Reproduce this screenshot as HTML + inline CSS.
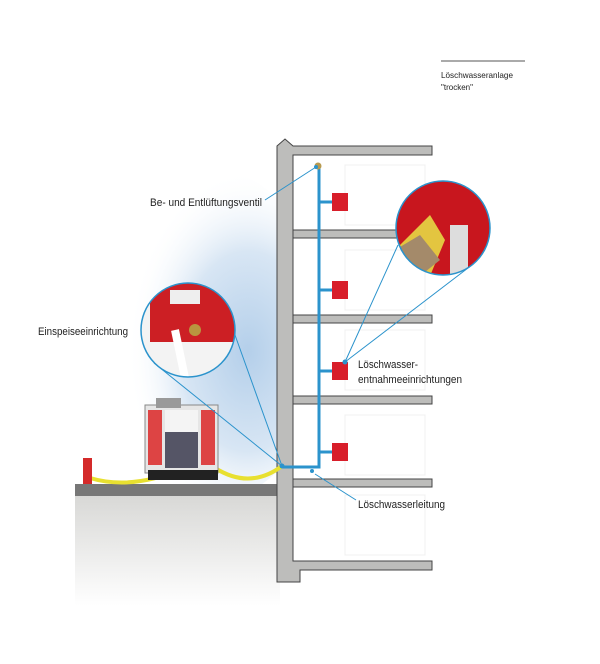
<!DOCTYPE html>
<html><head><meta charset="utf-8"><style>
html,body{margin:0;padding:0;background:#fff;}
svg{display:block;}
text{font-family:"Liberation Sans Narrow","Liberation Sans",sans-serif;fill:#222;}
</style></head><body>
<svg width="600" height="664" viewBox="0 0 600 664" xmlns="http://www.w3.org/2000/svg">
<defs>
<radialGradient id="sky" cx="0.65" cy="0.55" r="0.55">
<stop offset="0" stop-color="#b4cfea"/><stop offset="0.55" stop-color="#d8e6f4"/><stop offset="1" stop-color="#fff" stop-opacity="0"/>
</radialGradient>
<linearGradient id="gnd" x1="0" y1="0" x2="0" y2="1">
<stop offset="0" stop-color="#d8d8d6"/><stop offset="1" stop-color="#fff"/>
</linearGradient>
<clipPath id="c1"><circle cx="188" cy="330" r="47"/></clipPath>
<clipPath id="c2"><circle cx="443" cy="228" r="47"/></clipPath>
</defs>
<ellipse cx="215" cy="335" rx="110" ry="165" fill="url(#sky)"/>
<rect x="75" y="496" width="205" height="110" fill="url(#gnd)"/>
<rect x="75" y="484" width="205" height="12" fill="#777"/>
<rect x="293" y="150" width="145" height="415" fill="#fff"/>
<!-- faint interior lines -->
<g stroke="#f0f0f0" fill="none"><rect x="345" y="165" width="80" height="60"/><rect x="345" y="250" width="80" height="60"/><rect x="345" y="330" width="80" height="60"/><rect x="345" y="415" width="80" height="60"/><rect x="345" y="495" width="80" height="60"/></g>
<!-- building -->
<g fill="#bdbdbb" stroke="#444" stroke-width="1">
<path d="M277,146 L285,139 L293,146 L432,146 L432,155 L293,155 L293,561 L432,561 L432,570 L300,570 L300,582 L277,582 Z"/>
<rect x="293" y="230" width="139" height="8"/>
<rect x="293" y="315" width="139" height="8"/>
<rect x="293" y="396" width="139" height="8"/>
<rect x="293" y="479" width="139" height="8"/>
</g>
<!-- pipe -->
<g stroke="#2b93cc" stroke-width="3" fill="none">
<path d="M319,168 V467 H282"/>
<path d="M319,202 H332 M319,290 H332 M319,371 H332 M319,452 H332"/>
</g>
<circle cx="318" cy="166" r="3.5" fill="#b89a50"/>
<g fill="#d81e2a"><rect x="332" y="193" width="16" height="18"/><rect x="332" y="281" width="16" height="18"/><rect x="332" y="362" width="16" height="18"/><rect x="332" y="443" width="16" height="18"/></g>
<!-- hose and hydrant -->
<path d="M90,478 Q130,490 180,470 M215,468 Q250,490 282,466" stroke="#e8e030" stroke-width="4" fill="none"/>
<rect x="83" y="458" width="9" height="26" fill="#d42a2a"/>
<!-- truck -->
<rect x="145" y="405" width="73" height="68" fill="#e6e6e6" stroke="#888"/>
<rect x="148" y="410" width="14" height="55" fill="#d44"/><rect x="201" y="410" width="14" height="55" fill="#d44"/>
<rect x="165" y="410" width="33" height="22" fill="#f4f4f4"/><rect x="165" y="432" width="33" height="36" fill="#556"/>
<rect x="156" y="398" width="25" height="10" fill="#999"/>
<rect x="148" y="470" width="70" height="10" fill="#222"/>
<!-- circles -->
<g clip-path="url(#c1)"><rect x="140" y="282" width="96" height="96" fill="#f3f3f3"/><rect x="150" y="282" width="90" height="60" fill="#cc1f24"/><rect x="170" y="290" width="30" height="14" fill="#eee"/><circle cx="195" cy="330" r="6" fill="#b9953f"/><path d="M175,330 L185,378" stroke="#fff" stroke-width="8"/></g>
<circle cx="188" cy="330" r="47" fill="none" stroke="#2b93cc" stroke-width="1.5"/>
<g clip-path="url(#c2)"><rect x="395" y="180" width="96" height="96" fill="#c8161e"/><path d="M400,245 L430,215 L445,240 L430,276 L395,276Z" fill="#e3c540"/><path d="M395,250 L420,235 L440,260 L420,276 L395,276Z" fill="#a48a6a"/><rect x="450" y="225" width="18" height="50" fill="#ddd"/></g>
<circle cx="443" cy="228" r="47" fill="none" stroke="#2b93cc" stroke-width="1.5"/>
<!-- leader lines -->
<g stroke="#2b93cc" stroke-width="1" fill="none">
<path d="M265,200 L316,167"/>
<path d="M154,363 L282,466 M235,335 L282,466"/>
<path d="M345,362 L398,245 M345,362 L468,268"/>
<path d="M315,474 L356,500"/>
</g>
<g fill="#2b93cc"><circle cx="316" cy="167" r="2"/><circle cx="282" cy="466" r="2.5"/><circle cx="345" cy="362" r="2.5"/><circle cx="312" cy="471" r="2"/></g>
<!-- labels -->
<text x="150" y="206" font-size="11" textLength="112" lengthAdjust="spacingAndGlyphs">Be- und Entlüftungsventil</text>
<text x="38" y="335" font-size="11" textLength="90" lengthAdjust="spacingAndGlyphs">Einspeiseeinrichtung</text>
<text x="358" y="368" font-size="11" textLength="60" lengthAdjust="spacingAndGlyphs">Löschwasser-</text>
<text x="358" y="383" font-size="11" textLength="104" lengthAdjust="spacingAndGlyphs">entnahmeeinrichtungen</text>
<text x="358" y="508" font-size="11" textLength="87" lengthAdjust="spacingAndGlyphs">Löschwasserleitung</text>
<line x1="441" y1="61" x2="525" y2="61" stroke="#555" stroke-width="1"/>
<text x="441" y="78" font-size="8.5" textLength="72" lengthAdjust="spacingAndGlyphs">Löschwasseranlage</text>
<text x="441" y="90" font-size="8.5" textLength="32" lengthAdjust="spacingAndGlyphs">"trocken"</text>
</svg>
</body></html>
